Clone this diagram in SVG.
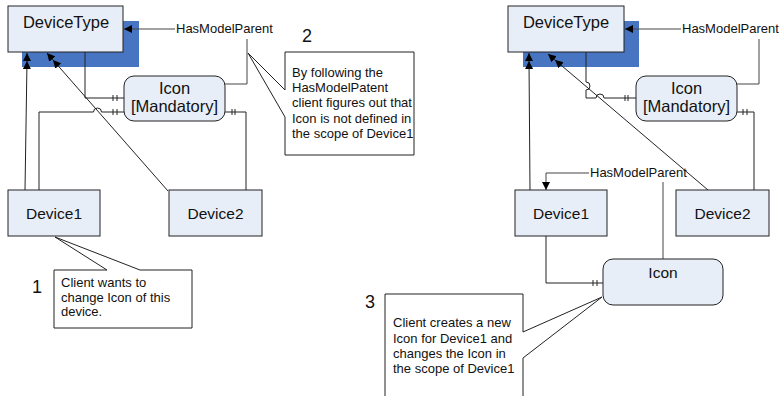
<svg xmlns="http://www.w3.org/2000/svg" width="779" height="396" viewBox="0 0 779 396">
<style>
.box{fill:#E8EEF8;stroke:#222;stroke-width:1}
.shadow{fill:#4775C2}
.ln{fill:none;stroke:#222;stroke-width:1}
.gl{fill:none;stroke:#444;stroke-width:1}
.call{fill:#fff;stroke:#222;stroke-width:1}
text{font-family:"Liberation Sans",Arial,sans-serif;fill:#111}
.t16{font-size:16.5px;text-anchor:middle}
.t15{font-size:15.5px;text-anchor:middle}
.t13{font-size:13px}
.num{font-size:18px}
</style>
<defs>
<marker id="ah" viewBox="0 0 10 10" refX="10" refY="5" markerWidth="8" markerHeight="9" markerUnits="userSpaceOnUse" orient="auto">
<path d="M0,0 L10,5 L0,10 z" fill="#000"/>
</marker>
</defs>
<rect class="shadow" x="22" y="21" width="117" height="46"/>
<rect class="shadow" x="523" y="21" width="116" height="46"/>
<g id="connectors">
<!-- left -->
<line class="ln" x1="25" y1="190" x2="27" y2="61" marker-end="url(#ah)"/>
<line class="ln" x1="27" y1="61" x2="27" y2="53" marker-end="url(#ah)"/>
<line class="ln" x1="168" y1="191" x2="53" y2="60" marker-end="url(#ah)"/>
<line class="ln" x1="53" y1="60" x2="47" y2="53" marker-end="url(#ah)"/>
<path class="ln" d="M85,52 V98 H124"/>
<path class="ln" d="M113,95 V101 M117,95 V101"/>
<path class="ln" d="M39,190 V112 H93.5 A4,4 0 0 1 101.5,112 H124"/>
<path class="ln" d="M113,109 V115 M117,109 V115"/>
<path class="ln" d="M225,112 H246 V190"/>
<path class="ln" d="M232,109 V115 M235,109 V115"/>
<line class="gl" x1="175" y1="29" x2="124" y2="29" marker-end="url(#ah)"/>
<path class="gl" d="M247,39 V84 H225"/>
<!-- right -->
<line class="ln" x1="530" y1="190" x2="529" y2="61" marker-end="url(#ah)"/>
<line class="ln" x1="529" y1="61" x2="529" y2="53" marker-end="url(#ah)"/>
<line class="ln" x1="708" y1="190" x2="555" y2="60" marker-end="url(#ah)"/>
<line class="ln" x1="555" y1="60" x2="548" y2="54" marker-end="url(#ah)"/>
<path class="ln" d="M586,52 V82 A4,4 0 0 1 586,90 V98 H596 A4,4 0 0 1 604,98 H636"/>
<path class="ln" d="M625,95 V101 M628,95 V101"/>
<path class="ln" d="M737,112 H754 V190"/>
<path class="ln" d="M743,109 V115 M747,109 V115"/>
<line class="gl" x1="681" y1="29" x2="625" y2="29" marker-end="url(#ah)"/>
<path class="gl" d="M759,39 V84 H737"/>
<path class="gl" d="M589,173 H546 V190" marker-end="url(#ah)"/>
<path class="gl" d="M663,182 V259"/>
<path class="ln" d="M546,236 V283 H603"/>
<path class="ln" d="M593,280 V286 M597,280 V286"/>
</g>
<g id="DeviceType-left">
<rect class="box" x="8" y="6" width="115" height="46"/>
<text class="t16" x="66" y="28">DeviceType</text>
</g>
<g id="DeviceType-right">
<rect class="box" x="508" y="6" width="116" height="46"/>
<text class="t16" x="566" y="28">DeviceType</text>
</g>
<g id="HasModelParent-left"><text class="t13" x="176" y="33">HasModelParent</text></g>
<g id="HasModelParent-right"><text class="t13" x="682" y="33">HasModelParent</text></g>
<g id="HasModelParent-bottom"><text class="t13" x="590" y="177">HasModelParent</text></g>
<g id="IconMandatory-left">
<rect class="box" x="124" y="76" width="101" height="45" rx="10"/>
<text class="t16" x="174.5" y="94">Icon</text>
<text class="t16" x="174.5" y="112">[Mandatory]</text>
</g>
<g id="IconMandatory-right">
<rect class="box" x="636" y="76" width="101" height="45" rx="10"/>
<text class="t16" x="686.5" y="94">Icon</text>
<text class="t16" x="686.5" y="112">[Mandatory]</text>
</g>
<g id="Device1-left">
<rect class="box" x="8" y="190" width="92" height="46"/>
<text class="t15" x="54" y="219">Device1</text>
</g>
<g id="Device2-left">
<rect class="box" x="169" y="190" width="93" height="46"/>
<text class="t15" x="215.5" y="219">Device2</text>
</g>
<g id="Device1-right">
<rect class="box" x="515" y="190" width="92" height="46"/>
<text class="t15" x="561" y="219">Device1</text>
</g>
<g id="Device2-right">
<rect class="box" x="676" y="190" width="93" height="46"/>
<text class="t15" x="722.5" y="219">Device2</text>
</g>
<g id="Icon-new">
<rect class="box" x="603" y="259" width="120" height="46" rx="10"/>
<text class="t15" x="663" y="278">Icon</text>
</g>
<g id="callout-1">
<path class="call" d="M54,270 H107 L55,237 L140,270 H192 V328 H54 Z"/>
<text class="t13" x="61" y="287">Client wants to</text>
<text class="t13" x="61" y="302">change Icon of this</text>
<text class="t13" x="61" y="316">device.</text>
<text class="num" x="32" y="293">1</text>
</g>
<g id="callout-2">
<path class="call" d="M285,52 H414 V155 H285 V117 L248,53 L285,90 Z"/>
<text class="t13" x="292" y="77">By following the</text>
<text class="t13" x="292" y="92">HasModelPatent</text>
<text class="t13" x="292" y="107">client figures out that</text>
<text class="t13" x="292" y="123">Icon is not defined in</text>
<text class="t13" x="292" y="138">the scope of Device1</text>
<text class="num" x="302" y="42">2</text>
</g>
<g id="callout-3">
<path class="call" d="M385,294 H523 V332 L602,297 L523,358 V402 H385 Z"/>
<text class="t13" x="393" y="327">Client creates a new</text>
<text class="t13" x="393" y="343">Icon for Device1 and</text>
<text class="t13" x="393" y="358">changes the Icon in</text>
<text class="t13" x="393" y="373">the scope of Device1</text>
<text class="num" x="365" y="308">3</text>
</g>
</svg>
